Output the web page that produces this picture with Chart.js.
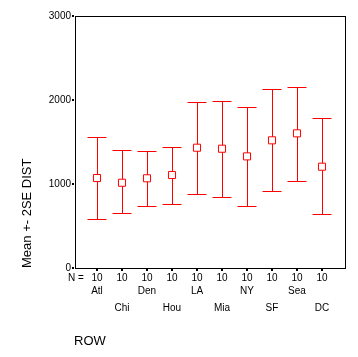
<!DOCTYPE html>
<html>
<head>
<meta charset="utf-8">
<script src="https://cdn.jsdelivr.net/npm/chart.js@4/dist/chart.umd.min.js"></script>
<style>
html,body{margin:0;padding:0;background:#fff;}
canvas{display:block;}
</style>
</head>
<body>
<canvas id="c" width="358" height="357"></canvas>
<script>
const categories = ["Atl","Chi","Den","Hou","LA","Mia","NY","SF","Sea","DC"];
const counts = [10,10,10,10,10,10,10,10,10,10];
const means = [1071,1015,1068,1107,1432,1420,1329,1520,1603,1206];
const upper = [1556,1401,1389,1440,1972,1988,1913,2127,2151,1782];
const lower = [580,651,742,762,877,842,742,913,1032,643];
const yTicks = [0,1000,2000,3000];
const yTitle = "Mean +- 2SE DIST";
const xTitle = "ROW";

const FONT = '"Liberation Sans", Arial, sans-serif';

const custom = {
  id: 'custom',
  beforeDatasetsDraw(chart) {
    const ctx = chart.ctx, xs = chart.scales.x, ys = chart.scales.y;
    const a = chart.chartArea;
    ctx.save();
    // frame
    ctx.strokeStyle = '#000';
    ctx.lineWidth = 1;
    ctx.strokeRect(Math.round(a.left) + 0.5, Math.round(a.top) + 0.5,
                   Math.round(a.right - a.left), Math.round(a.bottom - a.top));
    // error bars
    ctx.strokeStyle = '#ff0000';
    ctx.lineWidth = 1;
    categories.forEach((c, i) => {
      const x = Math.round(xs.getPixelForValue(i + 1)) + 0.5;
      const yu = Math.round(ys.getPixelForValue(upper[i])) + 0.5;
      const yl = Math.round(ys.getPixelForValue(lower[i])) + 0.5;
      ctx.beginPath();
      ctx.moveTo(x, yu); ctx.lineTo(x, yl);
      ctx.moveTo(x - 10, yu); ctx.lineTo(x + 9, yu);
      ctx.moveTo(x - 10, yl); ctx.lineTo(x + 9, yl);
      ctx.stroke();
    });
    ctx.restore();
  },
  afterDraw(chart) {
    const ctx = chart.ctx, xs = chart.scales.x, ys = chart.scales.y;
    const a = chart.chartArea;
    ctx.save();
    ctx.fillStyle = '#000';
    // y ticks
    ctx.font = '10px ' + FONT;
    ctx.textAlign = 'right';
    ctx.textBaseline = 'middle';
    yTicks.forEach(v => {
      const y = Math.round(ys.getPixelForValue(v));
      ctx.fillRect(a.left - 3, y - 1, 2, 2);
      ctx.fillText(String(v), a.left - 4, y);
    });
    // x ticks, counts, categories
    ctx.textAlign = 'center';
    categories.forEach((c, i) => {
      const x = Math.round(xs.getPixelForValue(i + 1));
      ctx.fillRect(x - 1, a.bottom + 1, 2, 2);
      ctx.fillText(String(counts[i]), x, a.bottom + 10);
      ctx.fillText(c, x, a.bottom + (i % 2 === 0 ? 23 : 40));
    });
    ctx.textAlign = 'left';
    ctx.fillText('N =', a.left - 7, a.bottom + 10);
    // titles
    ctx.font = '13px ' + FONT;
    ctx.textAlign = 'center';
    ctx.fillText(xTitle, 90, 341);
    ctx.translate(27, a.bottom);
    ctx.rotate(-Math.PI / 2);
    ctx.textAlign = 'left';
    ctx.fillText(yTitle, 0, 0);
    ctx.restore();
  }
};

new Chart(document.getElementById('c'), {
  type: 'scatter',
  data: {
    datasets: [{
      data: means.map((m, i) => ({x: i + 1, y: m})),
      pointStyle: 'rect',
      pointRadius: 5,
      borderColor: '#ff0000',
      backgroundColor: '#ffffff',
      borderWidth: 1
    }]
  },
  options: {
    responsive: false,
    devicePixelRatio: 1,
    animation: false,
    layout: {padding: {left: 75, top: 16, right: 13, bottom: 89}},
    plugins: {legend: {display: false}, tooltip: {enabled: false}},
    scales: {
      x: {type: 'linear', display: false, min: 0.12, max: 10.92},
      y: {type: 'linear', display: false, min: 0, max: 3000}
    }
  },
  plugins: [custom]
});
</script>
</body>
</html>
